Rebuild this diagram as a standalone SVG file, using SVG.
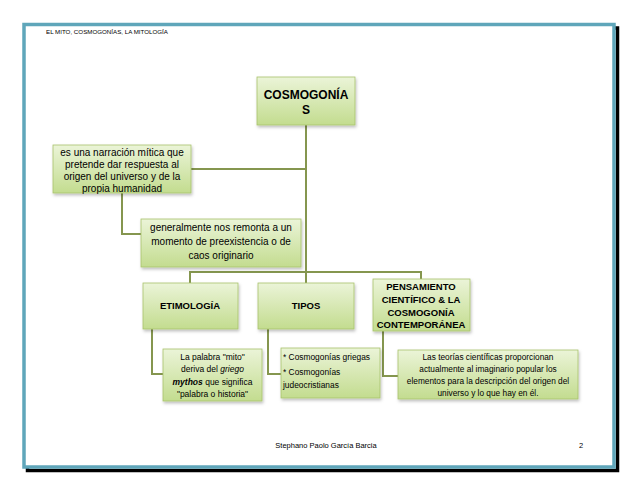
<svg xmlns="http://www.w3.org/2000/svg" width="638" height="493" viewBox="0 0 638 493">
<style>
.box{fill:url(#g);stroke:#A8C26C;stroke-width:0.8;filter:url(#sh)}
.t{font-family:"Liberation Sans",Arial,sans-serif;fill:#000;text-anchor:middle}
.b{font-weight:bold}
.c{fill:none;stroke:#85964F;stroke-width:2}
</style>
<defs>
<linearGradient id="g" x1="0" y1="0" x2="0" y2="1">
<stop offset="0" stop-color="#EBF4D8"/>
<stop offset="1" stop-color="#C3DC8F"/>
</linearGradient>
<filter id="sh" x="-10%" y="-10%" width="130%" height="140%">
<feDropShadow dx="1" dy="2" stdDeviation="1.5" flood-color="#000" flood-opacity="0.25"/>
</filter>
</defs>
<rect width="638" height="493" fill="#fff"/>
<rect x="27.5" y="28" width="590" height="442.5" fill="none" stroke="#000" stroke-width="3.5"/>
<rect x="24" y="24.5" width="590" height="442.5" fill="#fff" stroke="#5FA6BA" stroke-width="3.5"/>
<text class="t" x="46" y="34" style="text-anchor:start;font-size:6.2px">EL MITO, COSMOGONÍAS, LA MITOLOGÍA</text>
<text class="t" x="326" y="448" style="font-size:7.5px">Stephano Paolo García Barcia</text>
<text class="t" x="581" y="448" style="font-size:7.5px">2</text>

<g id="connectors">
<path class="c" d="M306 125V272"/>
<path class="c" d="M306 169H190"/>
<path class="c" d="M122 192V234H141"/>
<path class="c" d="M190 283V272H421V280"/>
<path class="c" d="M306 272V283"/>
<path class="c" d="M152 328V374H163"/>
<path class="c" d="M268 328V374H281"/>
<path class="c" d="M383 330V376H398"/>
</g>

<g id="n-cosmogonias">
<rect class="box" x="257" y="77" width="98" height="48"/>
<text class="t b" x="306" y="99" style="font-size:12px">COSMOGONÍA</text>
<text class="t b" x="306" y="114" style="font-size:12px">S</text>
</g>

<g id="n-narracion">
<rect class="box" x="53" y="145" width="138" height="48"/>
<g class="t" style="font-size:10px">
<text x="122" y="156">es una narración mítica que</text>
<text x="122" y="168">pretende dar respuesta al</text>
<text x="122" y="180">origen del universo y de la</text>
<text x="122" y="192">propia humanidad</text>
</g>
</g>

<g id="n-generalmente">
<rect class="box" x="141" y="219" width="160" height="48"/>
<g class="t" style="font-size:10px">
<text x="221" y="231">generalmente nos remonta a un</text>
<text x="221" y="245">momento de preexistencia o de</text>
<text x="221" y="259">caos originario</text>
</g>
</g>

<g id="n-etimologia">
<rect class="box" x="143" y="283" width="95" height="46"/>
<text class="t b" x="190" y="309" style="font-size:9.5px">ETIMOLOGÍA</text>
</g>

<g id="n-tipos">
<rect class="box" x="258" y="283" width="96" height="46"/>
<text class="t b" x="306" y="309" style="font-size:9.5px">TIPOS</text>
</g>

<g id="n-pensamiento">
<rect class="box" x="373" y="279" width="97" height="52"/>
<g class="t b" style="font-size:9.5px">
<text x="421" y="290">PENSAMIENTO</text>
<text x="421" y="303">CIENTÍFICO &amp; LA</text>
<text x="421" y="316">COSMOGONÍA</text>
<text x="421" y="328">CONTEMPORÁNEA</text>
</g>
</g>

<g id="n-palabra">
<rect class="box" x="163" y="349" width="99" height="52"/>
<g class="t" style="font-size:8.5px">
<text x="212.5" y="360">La palabra "mito"</text>
<text x="212.5" y="372">deriva del <tspan font-style="italic">griego</tspan></text>
<text x="212.5" y="385"><tspan font-weight="bold" font-style="italic">mythos</tspan> que significa</text>
<text x="212.5" y="397">"palabra o historia"</text>
</g>
</g>

<g id="n-cosmogonias-tipos">
<rect class="box" x="281" y="348" width="99" height="50"/>
<g class="t" style="font-size:8.4px;text-anchor:start">
<text x="283" y="360">* Cosmogonías griegas</text>
<text x="283" y="375">* Cosmogonías</text>
<text x="283" y="388">judeocristianas</text>
</g>
</g>

<g id="n-teorias">
<rect class="box" x="398" y="350" width="180" height="49"/>
<g class="t" style="font-size:8.3px">
<text x="488" y="360">Las teorías científicas proporcionan</text>
<text x="488" y="372">actualmente al imaginario popular los</text>
<text x="488" y="384">elementos para la descripción del origen del</text>
<text x="488" y="396">universo y lo que hay en él.</text>
</g>
</g>
</svg>
